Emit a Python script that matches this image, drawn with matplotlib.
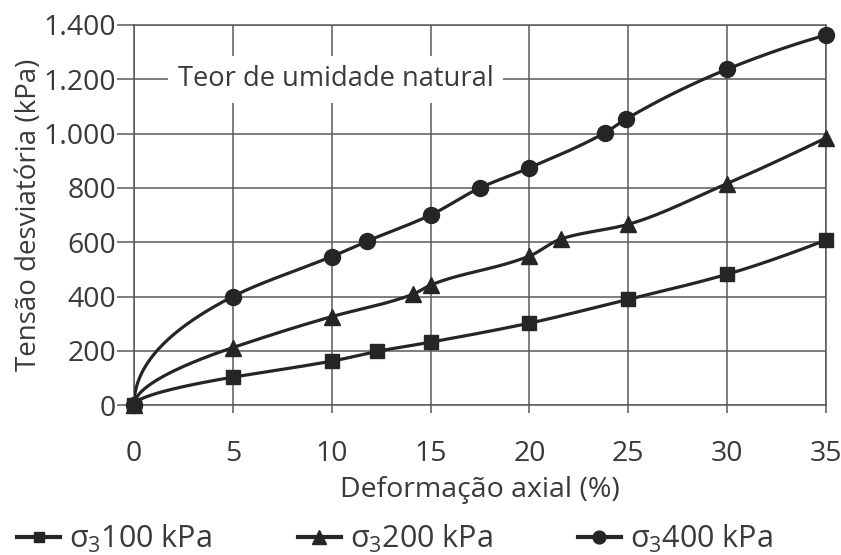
import numpy as np
import matplotlib
matplotlib.use("Agg")
import matplotlib.pyplot as plt
from matplotlib.ticker import FuncFormatter

plt.rcParams["font.family"] = ["Open Sans", "DejaVu Sans"]
plt.rcParams["mathtext.fontset"] = "custom"
plt.rcParams["mathtext.rm"] = "Open Sans"
plt.rcParams["mathtext.it"] = "Open Sans"

# Deformação axial (%) e tensão desviatória (kPa) por tensão confinante
x_100 = [0, 5, 10, 12.3, 15, 20, 25, 30, 35]
y_100 = [0, 103, 162, 198, 232, 302, 390, 482, 608]

x_200 = [0, 5, 10, 14.1, 15, 20, 21.6, 25, 30, 35]
y_200 = [0, 212, 326, 408, 442, 549, 612, 666, 816, 984]

x_400 = [0, 5, 10, 11.8, 15, 17.5, 20, 23.8, 24.9, 30, 35]
y_400 = [0, 400, 547, 604, 700, 800, 874, 1002, 1054, 1237, 1363]

labels = [r"$\sigma_{3}$100 kPa", r"$\sigma_{3}$200 kPa", r"$\sigma_{3}$400 kPa"]
markers = ["s", "^", "o"]
msizes = [9.5, 12, 11.5]

x_ticks = list(range(0, 36, 5))
y_ticks = list(range(0, 1401, 200))

INK = "#262424"
GRID = "#5a5a5a"
TXT = "#3a3a3a"


def pchip(x, y, xs):
    # monotone cubic (Fritsch-Carlson) so the curves pass through the points
    x = np.asarray(x, float)
    y = np.asarray(y, float)
    h = np.diff(x)
    d = np.diff(y) / h
    m = np.zeros_like(x)
    for k in range(1, len(x) - 1):
        if d[k - 1] * d[k] > 0:
            w1 = 2 * h[k] + h[k - 1]
            w2 = h[k] + 2 * h[k - 1]
            m[k] = (w1 + w2) / (w1 / d[k - 1] + w2 / d[k])
    m[0] = ((2 * h[0] + h[1]) * d[0] - h[0] * d[1]) / (h[0] + h[1])
    m[-1] = ((2 * h[-1] + h[-2]) * d[-1] - h[-1] * d[-2]) / (h[-1] + h[-2])
    idx = np.clip(np.searchsorted(x, xs) - 1, 0, len(h) - 1)
    t = (xs - x[idx]) / h[idx]
    h00 = 2 * t**3 - 3 * t**2 + 1
    h10 = t**3 - 2 * t**2 + t
    h01 = -2 * t**3 + 3 * t**2
    h11 = t**3 - t**2
    return (h00 * y[idx] + h10 * h[idx] * m[idx]
            + h01 * y[idx + 1] + h11 * h[idx] * m[idx + 1])


def smooth(xs, ys):
    # interpolate against sqrt(strain) so the start of each curve bends up steeply
    u = np.sqrt(np.asarray(xs, float))
    uu = np.linspace(u[0], u[-1], 600)
    return uu**2, pchip(u, ys, uu)


fig = plt.figure(figsize=(8.41, 5.55), dpi=100)
ax = fig.add_axes([0.1593, 0.270, 0.8228, 0.685])

handles = []
for xs, ys, mk, ms, lab in zip([x_100, x_200, x_400], [y_100, y_200, y_400],
                               markers, msizes, labels):
    xx, yy = smooth(xs, ys)
    ax.plot(xx, yy, color=INK, lw=2.3, zorder=3, solid_capstyle="round")
    ax.plot(xs, ys, ls="none", marker=mk, ms=ms, color=INK, zorder=4,
            clip_on=False)
    h, = ax.plot([], [], color=INK, lw=3, marker=mk, ms=ms * 0.8, label=lab)
    handles.append(h)

ax.set_xlim(0, 35)
ax.set_ylim(0, 1400)
ax.set_xticks(x_ticks)
ax.set_yticks(y_ticks)
ax.yaxis.set_major_formatter(FuncFormatter(lambda v, p: f"{int(v):,}".replace(",", ".")))
ax.grid(True, color=GRID, lw=1.1, zorder=1)
for s in ax.spines.values():
    s.set_color(GRID)
    s.set_linewidth(1.1)
ax.tick_params(axis="x", direction="out", length=6, width=1.1, color=GRID,
               pad=19, labelsize=20.5, labelcolor=TXT)
ax.tick_params(axis="y", direction="out", length=12, width=1.1, color=GRID,
               pad=1, labelsize=20.5, labelcolor=TXT)

ax.set_xlabel("Deformação axial (%)", fontsize=20.5, color=TXT, labelpad=6)
ax.set_ylabel("Tensão desviatória (kPa)", fontsize=20, color=TXT, labelpad=0)

ax.text(10.2, 1200, "Teor de umidade natural", ha="center", va="center",
        fontsize=19.6, color=TXT, zorder=2,
        bbox=dict(boxstyle="square,pad=0.35", fc="white", ec="none"))

fig.legend(handles=handles, loc="lower left", bbox_to_anchor=(-0.012, -0.05),
           ncol=3, frameon=False, fontsize=22, handlelength=1.4,
           handletextpad=0.3, columnspacing=2.8, labelcolor=TXT)

fig.savefig("out.png", dpi=100)
